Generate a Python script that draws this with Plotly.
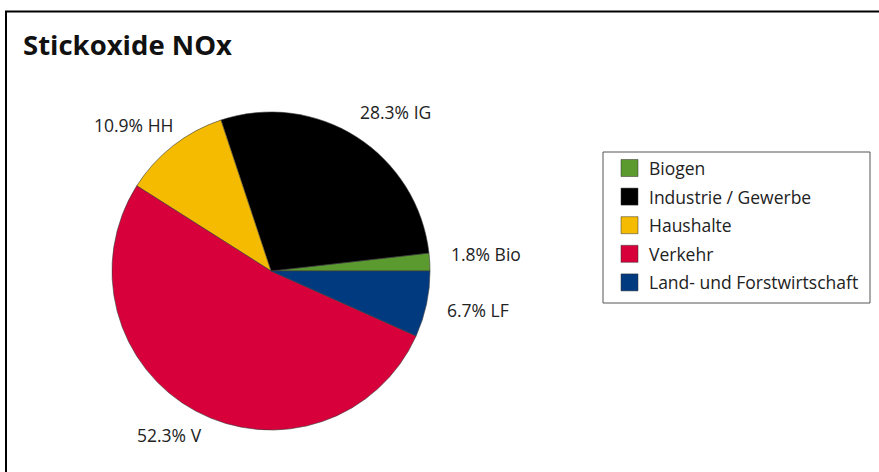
import plotly.graph_objects as go

# Emission sources of nitrogen oxides, share in percent
categories = ["Biogen", "Industrie / Gewerbe", "Haushalte", "Verkehr", "Land- und Forstwirtschaft"]
short_names = ["Bio", "IG", "HH", "V", "LF"]
shares = [1.8, 28.3, 10.9, 52.3, 6.7]
colors = ["#5b9a2f", "#000000", "#f4bb00", "#d7003a", "#023a80"]

W, H = 879, 472
FONT = "Open Sans"
TEXT_COLOR = "#222222"
LABEL_SIZE = 17.5

# pie placement in pixels
cx, cy, r = 271, 271, 159

# pixel anchor (left edge, vertical middle) of each slice label
label_pos = [(449, 254), (358, 112), (92, 125), (135, 435), (445, 310)]

# legend box geometry in pixels
leg_x0, leg_y0, leg_x1, leg_y1 = 603, 152, 870, 303
leg_first_y, leg_step = 168, 28.6
swatch_x, swatch_size, leg_text_x = 621, 17, 647


def px(x):
    return x / W


def py(y):
    return 1 - y / H


# with counterclockwise direction plotly ends the first slice at `rotation`,
# so shift by the first slice's angle to make it start at 3 o'clock
first_angle = 360 * shares[0] / sum(shares)

fig = go.Figure(
    go.Pie(
        labels=categories,
        values=shares,
        sort=False,
        direction="counterclockwise",
        rotation=90 - first_angle,
        marker=dict(colors=colors, line=dict(color="#3a3a3a", width=0.6)),
        textinfo="none",
        hoverinfo="label+percent",
        showlegend=False,
        domain=dict(x=[px(cx - r), px(cx + r)], y=[py(cy + r), py(cy - r)]),
    )
)

annotations = [
    dict(
        text="Stickoxide NOx",
        x=px(21), y=py(45), xref="paper", yref="paper",
        xanchor="left", yanchor="middle", showarrow=False,
        font=dict(family=FONT, size=27.5, color="#111111", weight="bold"),
    )
]

for val, short, (lx, ly) in zip(shares, short_names, label_pos):
    annotations.append(
        dict(
            text=f"{val:.1f}% {short}",
            x=px(lx), y=py(ly), xref="paper", yref="paper",
            xanchor="left", yanchor="middle", showarrow=False,
            font=dict(family=FONT, size=LABEL_SIZE, color=TEXT_COLOR),
        )
    )

shapes = [
    # outer frame: top and left edges
    dict(type="line", xref="paper", yref="paper", x0=px(5), x1=1, y0=py(11.5), y1=py(11.5),
         line=dict(color="#000000", width=2)),
    dict(type="line", xref="paper", yref="paper", x0=px(6), x1=px(6), y0=py(11), y1=0,
         line=dict(color="#000000", width=2)),
    # legend box
    dict(type="rect", xref="paper", yref="paper",
         x0=px(leg_x0), x1=px(leg_x1), y0=py(leg_y1), y1=py(leg_y0),
         line=dict(color="#555555", width=1), fillcolor="rgba(0,0,0,0)"),
]

for i, (cat, col) in enumerate(zip(categories, colors)):
    yc = leg_first_y + i * leg_step
    shapes.append(
        dict(type="rect", xref="paper", yref="paper",
             x0=px(swatch_x), x1=px(swatch_x + swatch_size),
             y0=py(yc + swatch_size / 2), y1=py(yc - swatch_size / 2),
             line=dict(color="#333333", width=0.5), fillcolor=col)
    )
    annotations.append(
        dict(
            text=cat, x=px(leg_text_x), y=py(yc), xref="paper", yref="paper",
            xanchor="left", yanchor="middle", showarrow=False,
            font=dict(family=FONT, size=LABEL_SIZE, color=TEXT_COLOR),
        )
    )

fig.update_layout(
    width=W, height=H,
    margin=dict(l=0, r=0, t=0, b=0),
    paper_bgcolor="#ffffff",
    plot_bgcolor="#ffffff",
    annotations=annotations,
    shapes=shapes,
)

fig.write_html("out.html")
